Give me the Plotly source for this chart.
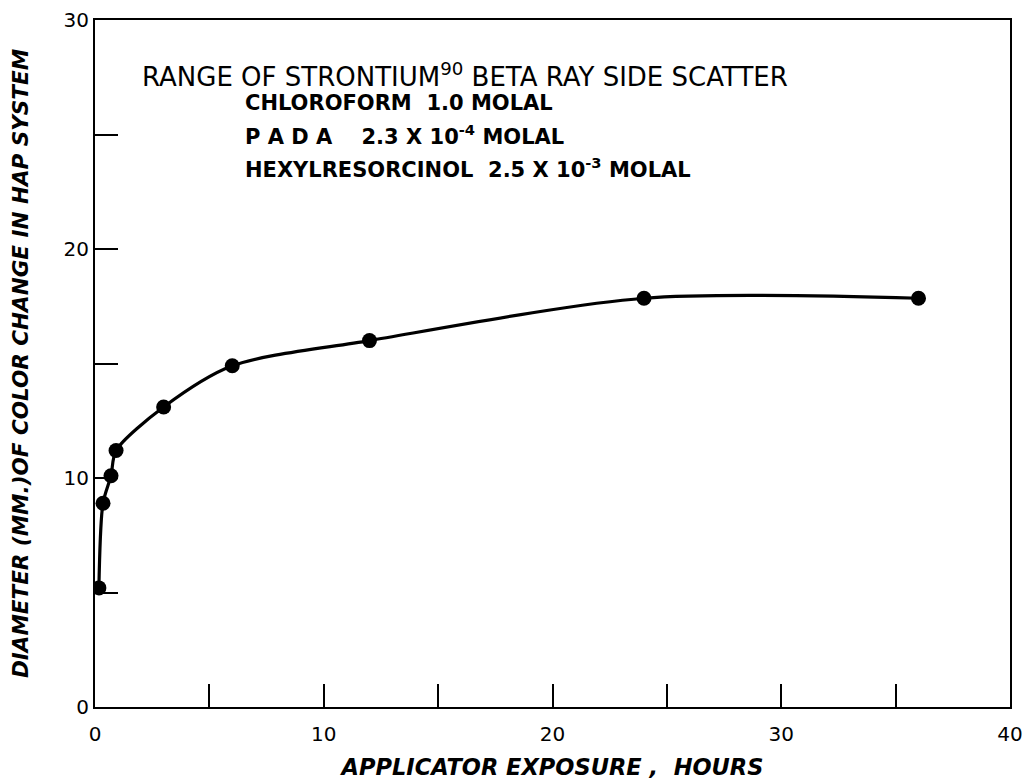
import plotly.graph_objects as go

hours = [0.17, 0.35, 0.70, 0.92, 3, 6, 12, 24, 36]
diameter_mm = [5.2, 8.9, 10.1, 11.2, 13.1, 14.9, 16.0, 17.85, 17.85]

x_tick_vals = [0, 10, 20, 30, 40]
x_tick_text = ["0", "10", "20", "30", "40"]
x_minor_vals = [5, 15, 25, 35]
y_tick_vals = [0, 10, 20, 30]
y_tick_text = ["0", "10", "20", "30"]
y_minor_vals = [5, 15, 25]

title_line = "RANGE OF STRONTIUM<sup>90</sup> BETA RAY SIDE SCATTER"
sub_lines = [
    "CHLOROFORM  1.0 MOLAL",
    "P A D A    2.3 X 10<sup>-4</sup> MOLAL",
    "HEXYLRESORCINOL  2.5 X 10<sup>-3</sup> MOLAL",
]

FONT = "DejaVu Sans, sans-serif"

fig = go.Figure()
fig.add_trace(go.Scatter(
    x=hours, y=diameter_mm, mode="lines+markers",
    line=dict(color="black", width=3.2, shape="spline", smoothing=0.8),
    marker=dict(color="black", size=15),
    showlegend=False,
))

fig.update_layout(
    width=1032, height=783,
    paper_bgcolor="white", plot_bgcolor="white",
    margin=dict(l=87, r=30, t=12, b=84, autoexpand=False),
    font=dict(family=FONT, color="black"),
)
fig.update_xaxes(
    range=[0, 40], tickvals=x_tick_vals, ticktext=x_tick_text,
    ticks="inside", ticklen=23, tickwidth=2, tickcolor="black",
    minor=dict(tickvals=x_minor_vals, ticks="inside", ticklen=23, tickwidth=2, tickcolor="black", showgrid=False),
    showline=True, linecolor="black", linewidth=2, mirror=True,
    showgrid=False, zeroline=False, ticklabelstandoff=8, automargin=False,
    tickfont=dict(size=20, family=FONT),
    title=dict(text="<b><i>APPLICATOR EXPOSURE ,  HOURS</i></b>", font=dict(size=22.5, family=FONT), standoff=14),
)
fig.update_yaxes(
    range=[0, 30], tickvals=y_tick_vals, ticktext=y_tick_text,
    ticks="inside", ticklen=23, tickwidth=2, tickcolor="black",
    minor=dict(tickvals=y_minor_vals, ticks="inside", ticklen=23, tickwidth=2, tickcolor="black", showgrid=False),
    showline=True, linecolor="black", linewidth=2, mirror=True,
    showgrid=False, zeroline=False, automargin=False,
    tickfont=dict(size=20, family=FONT),
    title=dict(text="<b><i>DIAMETER (MM.)OF COLOR CHANGE IN HAP SYSTEM</i></b>", font=dict(size=21.5, family=FONT), standoff=30),
)

fig.add_annotation(
    x=0.049, y=0.920, xref="paper", yref="paper", xanchor="left", yanchor="middle",
    text=title_line, showarrow=False, font=dict(size=26, family=FONT),
)
for i, t in enumerate(sub_lines):
    fig.add_annotation(
        x=0.162, y=0.879 - i * 0.047, xref="paper", yref="paper", xanchor="left", yanchor="middle",
        text="<b>" + t + "</b>", showarrow=False, font=dict(size=21, family=FONT),
    )

fig.write_html("out.html")
